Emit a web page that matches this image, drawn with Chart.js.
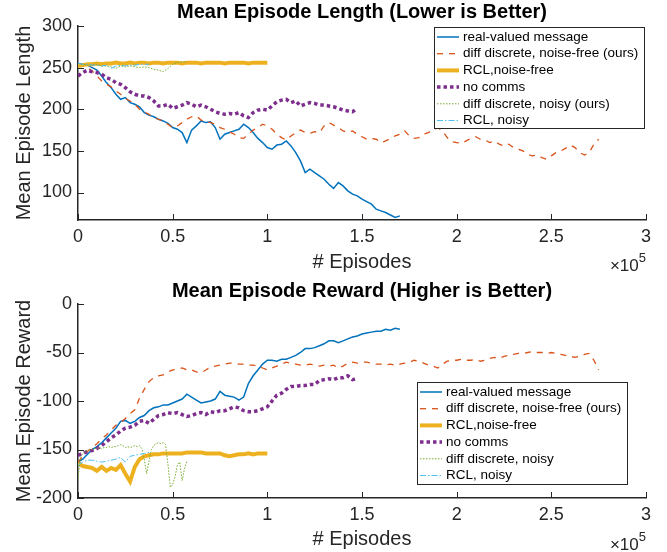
<!DOCTYPE html>
<html>
<head>
<meta charset="utf-8">
<script src="https://cdn.jsdelivr.net/npm/chart.js@4"></script>
<style>
  html, body { margin: 0; padding: 0; background: #fff; }
  canvas { display: block; }
</style>
</head>
<body>
<canvas id="length-chart" width="667" height="276"></canvas>
<canvas id="reward-chart" width="667" height="276"></canvas>
<script>
// Axis ticks
const xTicks = [0, 50000, 100000, 150000, 200000, 250000, 300000];
const xTickLabels = ['0', '0.5', '1', '1.5', '2', '2.5', '3'];
const lengthTicks = [100, 150, 200, 250, 300];
const rewardTicks = [-200, -150, -100, -50, 0];

// Legend labels
const lengthNames = ['real-valued message', 'diff discrete, noise-free (ours)', 'RCL,noise-free', 'no comms', 'diff discrete, noisy (ours)', 'RCL, noisy'];
const rewardNames = ['real-valued message', 'diff discrete, noise-free (ours)', 'RCL,noise-free', 'no comms', 'diff discrete, noisy', 'RCL, noisy'];

// Sampling interval (episodes) of the values below
const step = 2500;
const fineStep = 1250;

// Mean episode length
const lengthReal = [255, 254, 253, 250, 247, 240, 232, 226, 218, 212, 214, 208, 206, 203, 196, 193, 191, 188, 186, 183,
  178, 176, 172, 160, 175, 180, 186, 184, 185, 178, 164, 170, 172, 174, 176, 182, 178, 172, 165, 160,
  154, 152, 157, 158, 162, 156, 148, 138, 124, 128, 124, 120, 116, 110, 105, 112, 108, 102, 98, 96,
  92, 89, 86, 80, 78, 76, 73, 70, 72];
const lengthDiscrete = [254, 252, 250, 246, 240, 234, 230, 227, 222, 218, 213, 210, 206, 200, 197, 194, 190, 188, 186, 182,
  178, 180, 184, 188, 191, 192, 187, 185, 184, 182, 178, 176, 173, 170, 166, 165, 170, 175, 178, 182,
  180, 176, 170, 166, 163, 168, 172, 175, 172, 171, 173, 172, 180, 184, 181, 178, 174, 172, 174, 170,
  167, 164, 165, 164, 160, 162, 165, 168, 170, 174, 168, 165, 166, 170, 172, 174, 178, 174, 166, 161,
  160, 159, 162, 165, 167, 164, 163, 160, 162, 158, 156, 158, 154, 152, 150, 146, 144, 145, 142, 140,
  144, 148, 150, 153, 157, 154, 148, 145, 148, 158, 164];
const lengthRclClean = [252, 253, 254, 254, 255, 254, 255, 255, 256, 255, 255, 256, 255, 256, 256, 255, 256, 256, 255, 256,
  256, 256, 255, 256, 256, 256, 255, 256, 256, 256, 256, 255, 256, 256, 256, 256, 255, 256, 256, 256, 256];
const lengthNoComms = [240, 244, 247, 245, 244, 242, 238, 236, 232, 230, 226, 221, 218, 216, 216, 214, 210, 204, 204, 206,
  201, 203, 205, 208, 206, 203, 205, 203, 200, 197, 195, 194, 195, 194, 196, 192, 190, 196, 199, 200,
  199, 204, 209, 211, 212, 208, 210, 204, 206, 208, 207, 205, 205, 204, 203, 201, 199, 198, 197, 201];
const lengthDiscreteNoisy = [255, 254, 253, 254, 254, 252, 252, 251, 249, 252, 251, 252, 251, 250, 251, 250, 248, 247, 245, 249,
  254, 256, 257, 257];
const lengthRclNoisy = [255, 254, 254, 253, 253, 252, 253, 249, 252, 253, 252, 253, 253, 254, 254, 254];

// Mean episode reward
const rewardReal = [-163, -160, -155, -150, -147, -143, -138, -133, -128, -121, -120, -123, -121, -117, -115, -110, -107, -106, -104, -104,
  -102, -100, -98, -93, -96, -99, -102, -101, -100, -98, -90, -94, -95, -96, -99, -96, -82, -74, -68, -62,
  -58, -58, -59, -57, -57, -55, -53, -50, -46, -46, -45, -43, -41, -38, -38, -40, -38, -36, -34, -33,
  -31, -30, -29, -28, -28, -26, -27, -25, -26];
const rewardDiscrete = [-163, -157, -152, -148, -144, -139, -135, -130, -125, -122, -118, -113, -109, -97, -88, -80, -76, -74, -73, -70,
  -68, -67, -66, -68, -68, -70, -71, -68, -65, -64, -63, -62, -61, -61, -62, -62, -63, -63, -64, -66,
  -68, -66, -64, -62, -60, -61, -62, -63, -63, -62, -63, -64, -63, -64, -63, -66, -64, -61, -60, -61,
  -60, -60, -61, -62, -62, -63, -62, -63, -62, -61, -60, -58, -59, -61, -63, -64, -66, -62, -59, -58,
  -58, -57, -58, -58, -57, -59, -58, -56, -55, -56, -54, -53, -52, -51, -51, -50, -49, -50, -50, -51,
  -50, -51, -52, -53, -54, -55, -54, -52, -51, -58, -68];
const rewardRclClean = [-164, -167, -168, -169, -172, -168, -172, -169, -171, -166, -175, -183, -168, -160, -157, -156, -155, -155, -154, -154,
  -154, -154, -154, -153, -153, -153, -153, -154, -154, -154, -154, -156, -157, -156, -155, -155, -154, -155, -154, -154, -154];
const rewardNoComms = [-156, -154, -152, -151, -149, -146, -142, -138, -135, -131, -128, -127, -125, -121, -120, -123, -119, -115, -114, -112,
  -113, -112, -114, -116, -115, -113, -112, -114, -111, -112, -110, -110, -108, -106, -107, -110, -111, -111, -110, -108,
  -106, -100, -94, -92, -88, -85, -85, -84, -84, -83, -83, -79, -78, -77, -78, -76, -76, -74, -78, -77];
// sampled every fineStep episodes
const rewardDiscreteNoisy = [-180, -158, -154, -152, -151, -150, -150, -149, -149, -148, -149, -148, -148, -147, -148, -147, -147, -146, -145, -146,
  -148, -147, -148, -147, -146, -147, -146, -149, -160, -175, -162, -150, -146, -144, -143, -144, -143, -145, -165, -189,
  -186, -178, -166, -163, -182, -170, -162];
const rewardRclNoisy = [-166, -163, -161, -161, -162, -163, -162, -161, -160, -158, -163, -157, -156, -155, -154, -153];

const fontFamily = '"Liberation Sans", Arial, Helvetica, sans-serif';
const axisColor = '#262626';

const lineStyles = [
  { color: '#0072BD', width: 1.5, dash: [] },
  { color: '#D95319', width: 1.3, dash: [6, 6] },
  { color: '#EDB120', width: 4, dash: [] },
  { color: '#7E2F8E', width: 3.5, dash: [3.5, 3] },
  { color: '#77AC30', width: 1, dash: [1.5, 1.5] },
  { color: '#4DBEEE', width: 1, dash: [6, 2, 1.5, 2] },
];

function toPoints(values, interval) {
  return values.map((v, i) => ({ x: i * interval, y: v }));
}

// MATLAB style ticks pointing into the plot
const inwardTicks = {
  id: 'inwardTicks',
  afterDatasetsDraw(chart) {
    const { ctx, chartArea, scales: { x, y } } = chart;
    ctx.save();
    ctx.strokeStyle = axisColor;
    ctx.lineWidth = 1;
    x.ticks.forEach(t => {
      const px = Math.round(x.getPixelForValue(t.value)) + 0.5;
      ctx.beginPath();
      ctx.moveTo(px, chartArea.bottom);
      ctx.lineTo(px, chartArea.bottom - 6);
      ctx.stroke();
    });
    y.ticks.forEach(t => {
      const py = Math.round(y.getPixelForValue(t.value)) + 0.5;
      ctx.beginPath();
      ctx.moveTo(chartArea.left, py);
      ctx.lineTo(chartArea.left + 6, py);
      ctx.stroke();
    });
    ctx.restore();
  }
};

// Boxed legend inside the axes
const boxLegend = {
  id: 'boxLegend',
  afterDraw(chart, args, opts) {
    const { ctx } = chart;
    const { left, top, width, height } = opts;
    ctx.save();
    ctx.fillStyle = '#fff';
    ctx.fillRect(left, top, width, height);
    ctx.strokeStyle = axisColor;
    ctx.lineWidth = 1;
    ctx.strokeRect(left + 0.5, top + 0.5, width, height);
    chart.data.datasets.forEach((ds, i) => {
      const cy = top + 10 + i * 16.7;
      ctx.beginPath();
      ctx.strokeStyle = ds.borderColor;
      ctx.lineWidth = ds.borderWidth;
      ctx.setLineDash(ds.borderDash);
      ctx.moveTo(left + 3, cy);
      ctx.lineTo(left + 25, cy);
      ctx.stroke();
      ctx.setLineDash([]);
      ctx.fillStyle = '#000';
      ctx.font = '13.5px ' + fontFamily;
      ctx.textBaseline = 'middle';
      ctx.textAlign = 'left';
      ctx.fillText(ds.label, left + 29, cy);
    });
    ctx.restore();
  }
};

// x10^5 exponent under the right end of the x axis
const exponentLabel = {
  id: 'exponentLabel',
  afterDraw(chart, args, opts) {
    const { ctx, chartArea } = chart;
    ctx.save();
    ctx.fillStyle = axisColor;
    ctx.textAlign = 'right';
    ctx.textBaseline = 'alphabetic';
    ctx.font = '13px ' + fontFamily;
    ctx.fillText('5', chartArea.right, chartArea.bottom + opts.supY);
    const w = ctx.measureText('5').width;
    ctx.font = '17px ' + fontFamily;
    ctx.fillText('\u00d710', chartArea.right - w, chartArea.bottom + opts.baseY);
    ctx.restore();
  }
};

function makeChart(canvasId, cfg) {
  return new Chart(document.getElementById(canvasId), {
    type: 'line',
    data: {
      datasets: cfg.series.map((s, i) => ({
        label: cfg.names[i],
        data: toPoints(s.values, s.interval),
        borderColor: lineStyles[i].color,
        borderWidth: lineStyles[i].width,
        borderDash: lineStyles[i].dash,
        pointRadius: 0,
        tension: 0,
        fill: false,
        order: lineStyles.length - i,
      })),
    },
    options: {
      responsive: false,
      animation: false,
      events: [],
      layout: { autoPadding: false, padding: { left: 0, right: 21, top: 0, bottom: 0 } },
      plugins: {
        legend: { display: false },
        tooltip: { enabled: false },
        title: {
          display: true,
          fullSize: false,
          text: cfg.title,
          color: '#000',
          font: { family: fontFamily, size: 20, weight: 'bold' },
          padding: cfg.titlePadding,
        },
        boxLegend: cfg.legendBox,
        exponentLabel: cfg.exponent,
      },
      scales: {
        x: {
          type: 'linear',
          min: 0,
          max: 300000,
          afterBuildTicks: s => { s.ticks = xTicks.map(v => ({ value: v })); },
          afterFit: s => { s.height = cfg.xAxisHeight; },
          grid: { display: false, drawTicks: false },
          border: { display: true, color: axisColor, width: 1.5 },
          ticks: {
            color: axisColor,
            padding: 6,
            maxRotation: 0,
            font: { family: fontFamily, size: 18 },
            callback: v => xTickLabels[xTicks.indexOf(v)],
          },
          title: {
            display: true,
            text: '# Episodes',
            color: axisColor,
            font: { family: fontFamily, size: 20 },
            padding: { top: 0, bottom: cfg.xTitlePad },
          },
        },
        y: {
          min: cfg.yMin,
          max: cfg.yMax,
          afterBuildTicks: s => { s.ticks = cfg.yTicks.map(v => ({ value: v })); },
          afterFit: s => { s.width = 78; },
          grid: { display: false, drawTicks: false },
          border: { display: true, color: axisColor, width: 1.5 },
          ticks: {
            color: axisColor,
            padding: 6,
            font: { family: fontFamily, size: 18 },
          },
          title: {
            display: true,
            text: cfg.yTitle,
            color: axisColor,
            font: { family: fontFamily, size: 20 },
            padding: { top: 12, bottom: 0 },
          },
        },
      },
    },
    plugins: [inwardTicks, boxLegend, exponentLabel],
  });
}

makeChart('length-chart', {
  title: 'Mean Episode Length (Lower is Better)',
  titlePadding: { top: 0, bottom: 2 },
  yTitle: 'Mean Episode Length',
  yMin: 67,
  yMax: 300,
  yTicks: lengthTicks,
  xAxisHeight: 56,
  xTitlePad: 2,
  names: lengthNames,
  series: [
    { values: lengthReal, interval: step },
    { values: lengthDiscrete, interval: step },
    { values: lengthRclClean, interval: step },
    { values: lengthNoComms, interval: step },
    { values: lengthDiscreteNoisy, interval: step },
    { values: lengthRclNoisy, interval: step },
  ],
  legendBox: { left: 434, top: 27, width: 210, height: 101 },
  exponent: { baseY: 51, supY: 42 },
});

makeChart('reward-chart', {
  title: 'Mean Episode Reward (Higher is Better)',
  titlePadding: { top: 3, bottom: 1 },
  yTitle: 'Mean Episode Reward',
  yMin: -200,
  yMax: 0,
  yTicks: rewardTicks,
  xAxisHeight: 54,
  xTitlePad: 1,
  names: rewardNames,
  series: [
    { values: rewardReal, interval: step },
    { values: rewardDiscrete, interval: step },
    { values: rewardRclClean, interval: step },
    { values: rewardNoComms, interval: step },
    { values: rewardDiscreteNoisy, interval: fineStep },
    { values: rewardRclNoisy, interval: step },
  ],
  legendBox: { left: 417, top: 106, width: 210, height: 102 },
  exponent: { baseY: 52, supY: 43 },
});
</script>
</body>
</html>
